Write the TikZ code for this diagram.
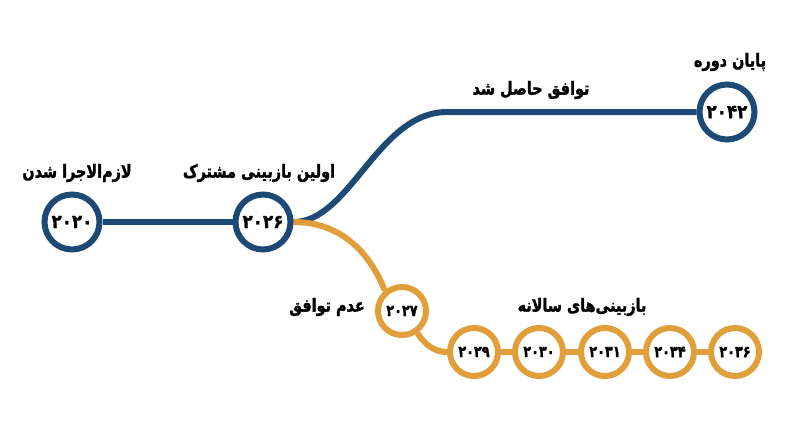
\documentclass[tikz,border=0pt]{standalone}
\usepackage{fontspec}
\newfontfamily\falbl[Script=Arabic,FakeBold=1.5,FakeStretch=0.8]{DejaVu Sans Bold}
\newfontfamily\fanum[Script=Arabic,FakeBold=1,FakeStretch=0.88]{DejaVu Sans Bold}
\TeXXeTstate=1
\usetikzlibrary{backgrounds}
\definecolor{navy}{HTML}{1C4A75}
\definecolor{gold}{HTML}{E09F3A}
\tikzset{
  bigyear/.style={circle,draw=navy,line width=6pt,fill=white,minimum size=55pt,inner sep=0pt,font=\fanum\fontsize{19}{23}\selectfont},
  smallyear/.style={circle,draw=gold,line width=6pt,fill=white,minimum size=48pt,inner sep=0pt,font=\falbl\fontsize{16}{19}\selectfont},
  lbl/.style={font=\falbl\fontsize{18}{22}\selectfont,inner sep=0pt},
  navyline/.style={draw=navy,line width=6pt},
  goldline/.style={draw=gold,line width=6pt}
}
\begin{document}
\begin{tikzpicture}[x=1pt,y=-1pt]
\useasboundingbox (0,0) rectangle (800,447);
% nodes
\node[bigyear] (n2020) at (72,222) {۲۰۲۰};
\node[bigyear] (n2026) at (263,222) {۲۰۲۶};
\node[bigyear] (n2042) at (727,112) {۲۰۴۲};
\node[smallyear] (n2027) at (402,311) {۲۰۲۷};
\node[smallyear] (n2029) at (474,352) {۲۰۲۹};
\node[smallyear] (n2030) at (539,352) {۲۰۳۰};
\node[smallyear] (n2031) at (605,352) {۲۰۳۱};
\node[smallyear] (n2034) at (670,352) {۲۰۳۴};
\node[smallyear] (n2036) at (735,352) {۲۰۳۶};
\coordinate (bendtop) at (447,112);
% labels
\node[lbl] (l2020) at (77,173) {\beginR لازم‌الاجرا شدن\endR};
\node[lbl] (l2026) at (259,173) {\beginR اولین بازبینی مشترک\endR};
\node[lbl] (lagree) at (531,90) {\beginR توافق حاصل شد\endR};
\node[lbl] (lend) at (730,62) {\beginR پایان دوره\endR};
\node[lbl] (lno) at (327,307) {\beginR عدم توافق\endR};
\node[lbl] (lannual) at (582,307) {\beginR بازبینی‌های سالانه\endR};
% connectors
\begin{scope}[on background layer]
\draw[navyline] (n2020) -- (n2026);
\draw[navyline] (n2026.east) .. controls (350,222) and (378,112) .. (bendtop) -- (n2042);
\draw[goldline] (n2026.east) .. controls (345,222) and (372,258) .. (n2027.130);
\draw[goldline] (n2027.-55) .. controls (425,345) and (435,352) .. (n2029.west);
\draw[goldline] (n2029) -- (n2030) -- (n2031) -- (n2034) -- (n2036);
\end{scope}
\end{tikzpicture}
\end{document}
